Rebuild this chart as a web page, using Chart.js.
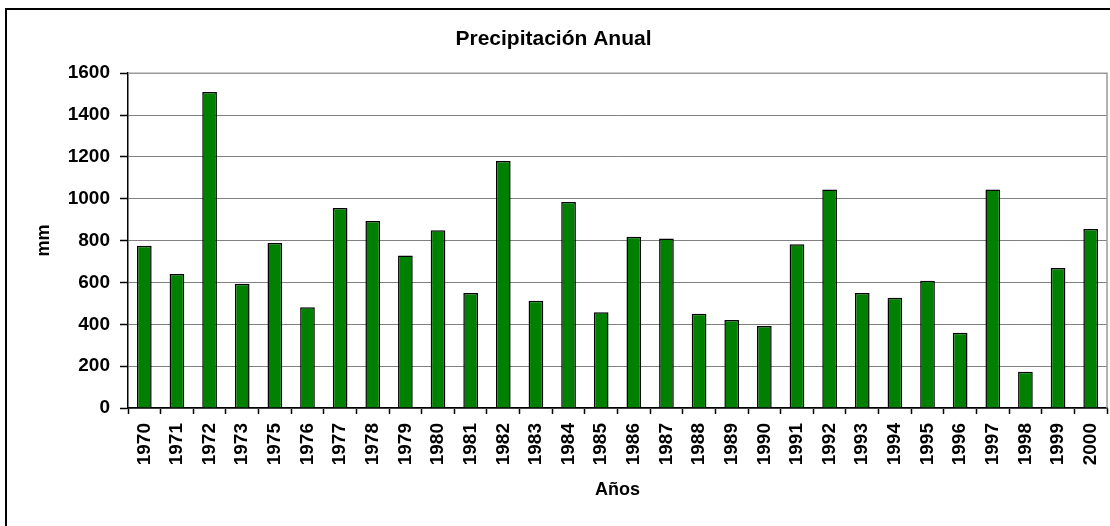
<!DOCTYPE html>
<html>
<head>
<meta charset="utf-8">
<title>Precipitación Anual</title>
<script src="https://cdn.jsdelivr.net/npm/chart.js@4"></script>
<style>
    body { margin: 0; background: #fff; overflow: hidden; }
    #frame { position: absolute; left: 5px; top: 8px; width: 1200px; height: 600px; border: 2px solid #000; }
    #chart { position: absolute; left: 0; top: 0; }
</style>
</head>
<body>
<div id="frame"></div>
<canvas id="chart" width="1130" height="526"></canvas>
<script>
// Years shown on the x axis (1974 is missing in the source)
const years = ['1970', '1971', '1972', '1973', '1975', '1976', '1977', '1978', '1979', '1980',
    '1981', '1982', '1983', '1984', '1985', '1986', '1987', '1988', '1989', '1990',
    '1991', '1992', '1993', '1994', '1995', '1996', '1997', '1998', '1999', '2000'];

// Annual rainfall in mm
const precipitation = [775, 640, 1510, 594, 789, 482, 956, 894, 729, 850,
    549, 1181, 512, 985, 458, 818, 810, 450, 420, 392,
    783, 1044, 549, 527, 608, 360, 1044, 173, 669, 856];

const yMin = 0;
const yMax = 1600;
const yStep = 200;

const FONT = '"Liberation Sans", Arial, sans-serif';

// Gray border on top/right of the plot area
const plotBorder = {
    id: 'plotBorder',
    beforeDatasetsDraw(chart) {
        const { ctx, chartArea: a } = chart;
        ctx.save();
        ctx.strokeStyle = '#999';
        ctx.lineWidth = 1.5;
        ctx.beginPath();
        ctx.moveTo(a.left, a.top);
        ctx.lineTo(a.right, a.top);
        ctx.lineTo(a.right, a.bottom);
        ctx.stroke();
        ctx.restore();
    }
};

window.addEventListener('DOMContentLoaded', () => {
    const ctx = document.getElementById('chart').getContext('2d');

    new Chart(ctx, {
        type: 'bar',
        data: {
            labels: years,
            datasets: [{
                label: 'Precipitación',
                data: precipitation,
                backgroundColor: '#008000',
                borderColor: '#000',
                borderWidth: 1.5,
                barPercentage: 0.45,
                categoryPercentage: 1
            }]
        },
        options: {
            responsive: false,
            maintainAspectRatio: false,
            animation: false,
            layout: { padding: { left: 0, right: 23, top: 0, bottom: 0 } },
            plugins: {
                legend: { display: false },
                tooltip: { enabled: false },
                title: {
                    display: true,
                    text: 'Precipitación Anual',
                    color: '#000',
                    font: { family: FONT, size: 21, weight: 'bold' },
                    padding: { top: 27, bottom: 21 }
                }
            },
            scales: {
                x: {
                    offset: true,
                    grid: {
                        offset: true,
                        drawOnChartArea: false,
                        drawTicks: true,
                        tickLength: 6,
                        tickColor: '#000',
                        tickWidth: 1.5
                    },
                    border: { color: '#000', width: 1.5 },
                    ticks: {
                        color: '#000',
                        font: { family: FONT, size: 19, weight: 'bold' },
                        maxRotation: 90,
                        minRotation: 90,
                        padding: 9,
                        autoSkip: false
                    },
                    title: {
                        display: true,
                        text: 'Años',
                        color: '#000',
                        font: { family: FONT, size: 18, weight: 'bold' },
                        padding: { top: 0, bottom: 25 }
                    },
                    afterFit(scale) { scale.height = 118; }
                },
                y: {
                    min: yMin,
                    max: yMax,
                    grid: {
                        color: '#808080',
                        lineWidth: 1,
                        borderDash: (c) => (c.tick && c.tick.value === yMax ? [] : [2, 2]),
                        tickColor: '#000',
                        tickLength: 8,
                        tickWidth: 1.5,
                        tickBorderDash: []
                    },
                    border: { color: '#000', width: 1.5 },
                    ticks: {
                        stepSize: yStep,
                        color: '#000',
                        font: { family: FONT, size: 19, weight: 'bold' },
                        padding: 10,
                        callback: (v) => String(v)
                    },
                    title: {
                        display: true,
                        text: 'mm',
                        color: '#000',
                        font: { family: FONT, size: 18, weight: 'bold' },
                        padding: { top: 33, bottom: 0 }
                    },
                    afterFit(scale) { scale.width = 128; }
                }
            }
        },
        plugins: [plotBorder]
    });
});
</script>
</body>
</html>
